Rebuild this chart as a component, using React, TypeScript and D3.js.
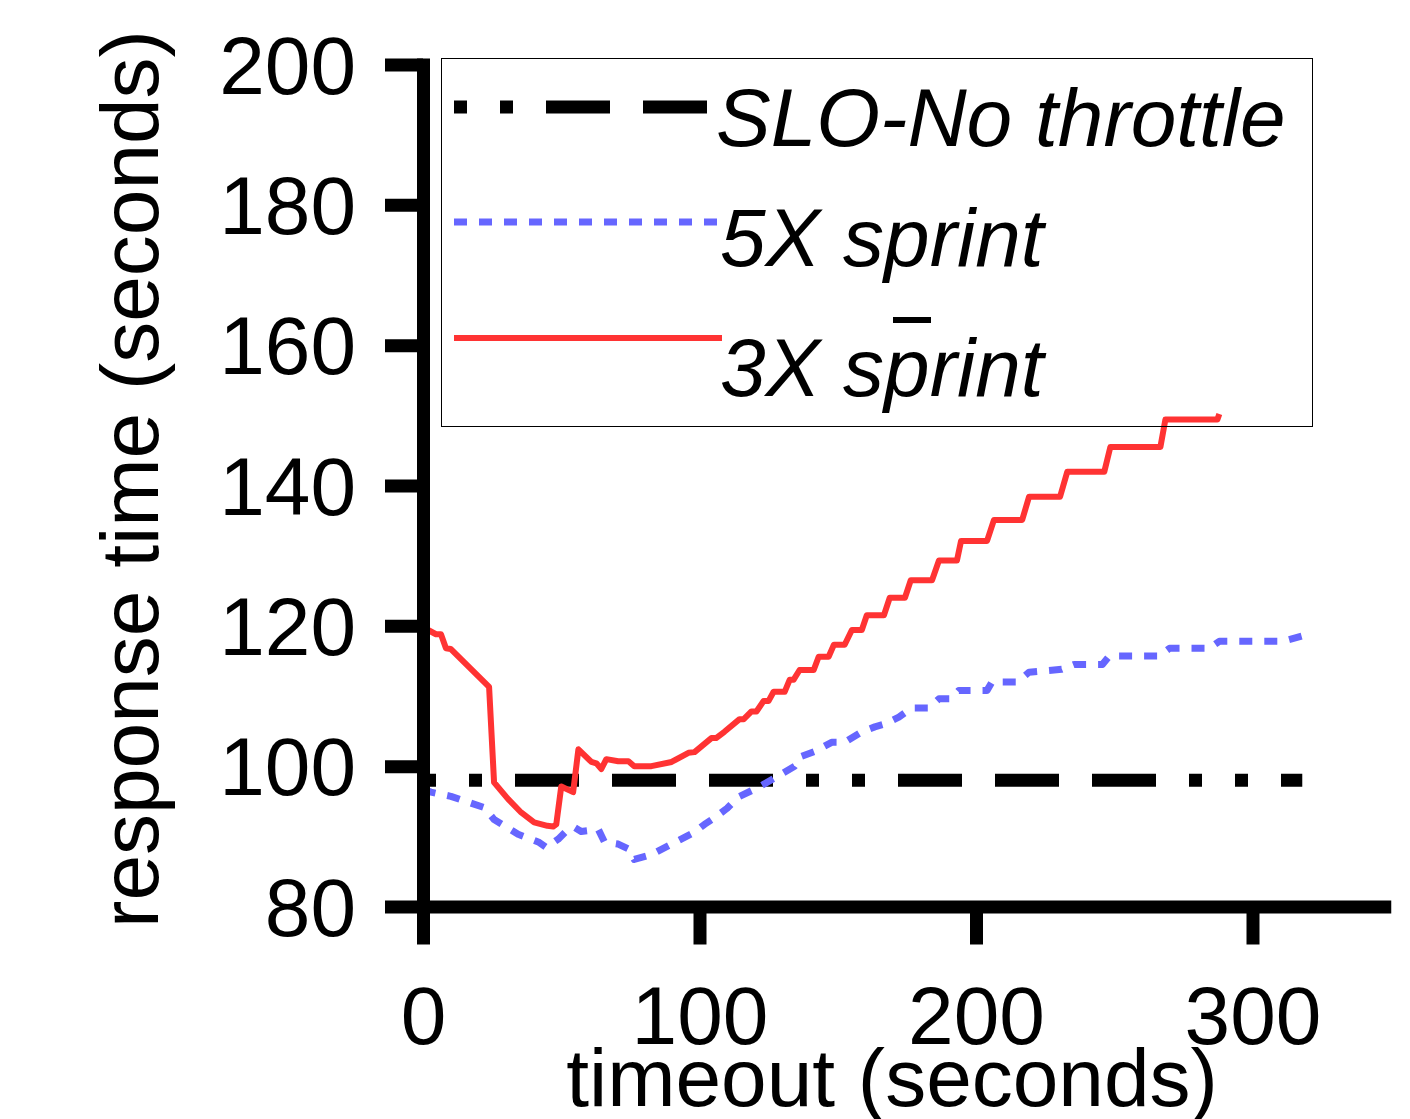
import * as d3 from "d3";
import { useEffect, useRef } from "react";

// values
const sloX = [0, 318];
const sloY = [98, 98];

const sprint5X = [0, 2.9, 10.1, 22.1, 25.7, 34.4, 41.7, 44.6, 48.9, 52.5, 54.7, 57.2, 63.4, 65.6, 70.6, 74.3, 76.4, 82.6, 89.9, 98.2, 101.8, 106, 110, 114, 121.4, 129.7, 134.4, 136.9, 141.7, 147.8, 152.5, 158.7, 163.4, 167, 172.1, 176.8, 183, 186.6, 191, 193.8, 204, 205.8, 215, 219.2, 231, 235.5, 245.7, 248.2, 266.3, 270, 284.4, 288, 310.9, 318.3];
const sprint5Y = [96.7, 96.3, 95.7, 94.1, 92.4, 90.3, 89.2, 88.4, 89.6, 91, 91.3, 90.7, 91, 89.2, 88.9, 88.2, 86.7, 87.4, 88.9, 90.6, 91.7, 92.8, 94, 95.6, 97, 98.9, 100, 101.4, 102.1, 103.4, 103.4, 104.9, 105.6, 106, 107, 108.3, 108.3, 109.6, 109.6, 110.8, 110.8, 112, 112, 113.4, 113.8, 114.5, 114.5, 115.7, 115.7, 116.8, 116.8, 117.8, 117.8, 118.6];

const sprint3X = [0, 4.7, 6.5, 8.3, 10, 23.9, 25.7, 30.8, 35.5, 40.2, 45, 47.1, 48.2, 50, 54.3, 56.2, 60.9, 62.7, 64.5, 66.3, 70.6, 74.3, 76.4, 82.6, 89.9, 96, 98.2, 104.3, 106, 109, 114.5, 116, 118.8, 120.6, 123.2, 125, 126.8, 130.8, 132.6, 134, 136.2, 141.3, 143.1, 146.7, 148.6, 152.5, 155.1, 158.7, 160.5, 166.7, 168.8, 174.3, 176.4, 184.1, 186.6, 193.1, 194.6, 204, 206.5, 216.7, 219.2, 230.4, 233, 246.4, 248.6, 266.7, 268.5, 287.3, 288];
const sprint3Y = [119.8, 118.8, 118.8, 116.8, 116.7, 111.3, 97.7, 95.3, 93.4, 92, 91.5, 91.4, 91.7, 97.1, 96.3, 102.4, 100.6, 100.4, 99.6, 101, 100.7, 100.7, 100, 100, 100.6, 101.9, 102, 104, 104, 104.9, 106.7, 106.7, 107.8, 107.8, 109.3, 109.3, 110.6, 110.6, 112.3, 112.3, 113.7, 113.7, 115.6, 115.6, 117.3, 117.3, 119.4, 119.4, 121.5, 121.5, 124, 124, 126.5, 126.5, 129.3, 129.3, 132.1, 132.1, 135.1, 135.1, 138.4, 138.4, 141.95, 141.95, 145.5, 145.5, 149.4, 149.4, 150.2];

const xTicks = [0, 100, 200, 300];
const yTicks = [80, 100, 120, 140, 160, 180, 200];
const legendNames = ["SLO-No throttle", "5X sprint", "3X sprint"];

const FONT = "'Liberation Sans', Arial, sans-serif";
const FS = 82;

const App = () => {
  const ref = useRef<SVGSVGElement>(null);

  useEffect(() => {
    const svg = d3.select(ref.current);
    svg.selectAll("*").remove();
    const width = 1410;
    const height = 1119;
    svg.attr("width", width).attr("height", height);

    const xScale = d3.scaleLinear().domain([0, 350]).range([423, 1390.75]);
    const yScale = d3.scaleLinear().domain([80, 200]).range([906.5, 64.5]);

    const toPts = (xs: number[], ys: number[]) => xs.map((x, i) => [x, ys[i]] as [number, number]);
    const line = d3
      .line<[number, number]>()
      .x((d) => xScale(d[0]))
      .y((d) => yScale(d[1]));

    // series
    const series = [
      { pts: toPts(sloX, sloY), color: "#000", width: 13, dash: "13,33,13,33,64,33,64,33,64,33" },
      { pts: toPts(sprint5X, sprint5Y), color: "#6666ff", width: 7, dash: "13,12" },
      { pts: toPts(sprint3X, sprint3Y), color: "#ff3333", width: 6, dash: null },
    ];
    series.forEach((s) => {
      svg
        .append("path")
        .attr("d", line(s.pts))
        .attr("fill", "none")
        .attr("stroke", s.color)
        .attr("stroke-width", s.width)
        .attr("stroke-dasharray", s.dash)
        .attr("stroke-linejoin", "round");
    });

    // axes
    const xAxis = d3.axisBottom(xScale).tickValues(xTicks).tickSize(38).tickSizeOuter(0).tickPadding(41);
    const gx = svg.append("g").attr("transform", "translate(0,906.5)").call(xAxis);
    const yAxis = d3.axisLeft(yScale).tickValues(yTicks).tickSize(38).tickSizeOuter(0).tickPadding(29);
    const gy = svg.append("g").attr("transform", "translate(423,0)").call(yAxis);

    [gx, gy].forEach((g) => {
      g.select(".domain").attr("stroke-width", 13);
      g.selectAll(".tick line").attr("stroke-width", 13);
      g.selectAll(".tick text").attr("font-size", FS).attr("font-family", FONT).attr("fill", "#000");
    });
    gy.select(".domain").attr("stroke-linecap", "square");
    gy.selectAll(".tick text").attr("dy", "0.35em");

    // axis titles
    svg
      .append("text")
      .attr("x", 892)
      .attr("y", 1106)
      .attr("text-anchor", "middle")
      .attr("font-size", FS)
      .attr("font-family", FONT)
      .text("timeout (seconds)");
    svg
      .append("text")
      .attr("transform", "translate(158,479) rotate(-90)")
      .attr("text-anchor", "middle")
      .attr("font-size", FS)
      .attr("font-family", FONT)
      .text("response time (seconds)");

    // legend
    const legend = svg.append("g");
    legend
      .append("rect")
      .attr("x", 441.5)
      .attr("y", 58.5)
      .attr("width", 871)
      .attr("height", 368)
      .attr("fill", "none")
      .attr("stroke", "#000")
      .attr("stroke-width", 1);
    const legendY = [107, 222, 338];
    const legendEnd = [708, 722, 722];
    const textX = [716, 720, 720];
    const textY = [146, 266, 396];
    series.forEach((s, i) => {
      legend
        .append("line")
        .attr("x1", 454)
        .attr("x2", legendEnd[i])
        .attr("y1", legendY[i])
        .attr("y2", legendY[i])
        .attr("stroke", s.color)
        .attr("stroke-width", s.width)
        .attr("stroke-dasharray", s.dash);
      legend
        .append("text")
        .attr("x", textX[i])
        .attr("y", textY[i])
        .attr("font-size", FS)
        .attr("font-style", "italic")
        .attr("font-family", FONT)
        .text(legendNames[i]);
    });
    // stray mark above the last legend label
    legend
      .append("line")
      .attr("x1", 893)
      .attr("x2", 931)
      .attr("y1", 320)
      .attr("y2", 320)
      .attr("stroke", "#000")
      .attr("stroke-width", 6);
  }, []);

  return <svg ref={ref} style={{ position: "absolute", left: 0, top: 0 }}></svg>;
};

export default App;
